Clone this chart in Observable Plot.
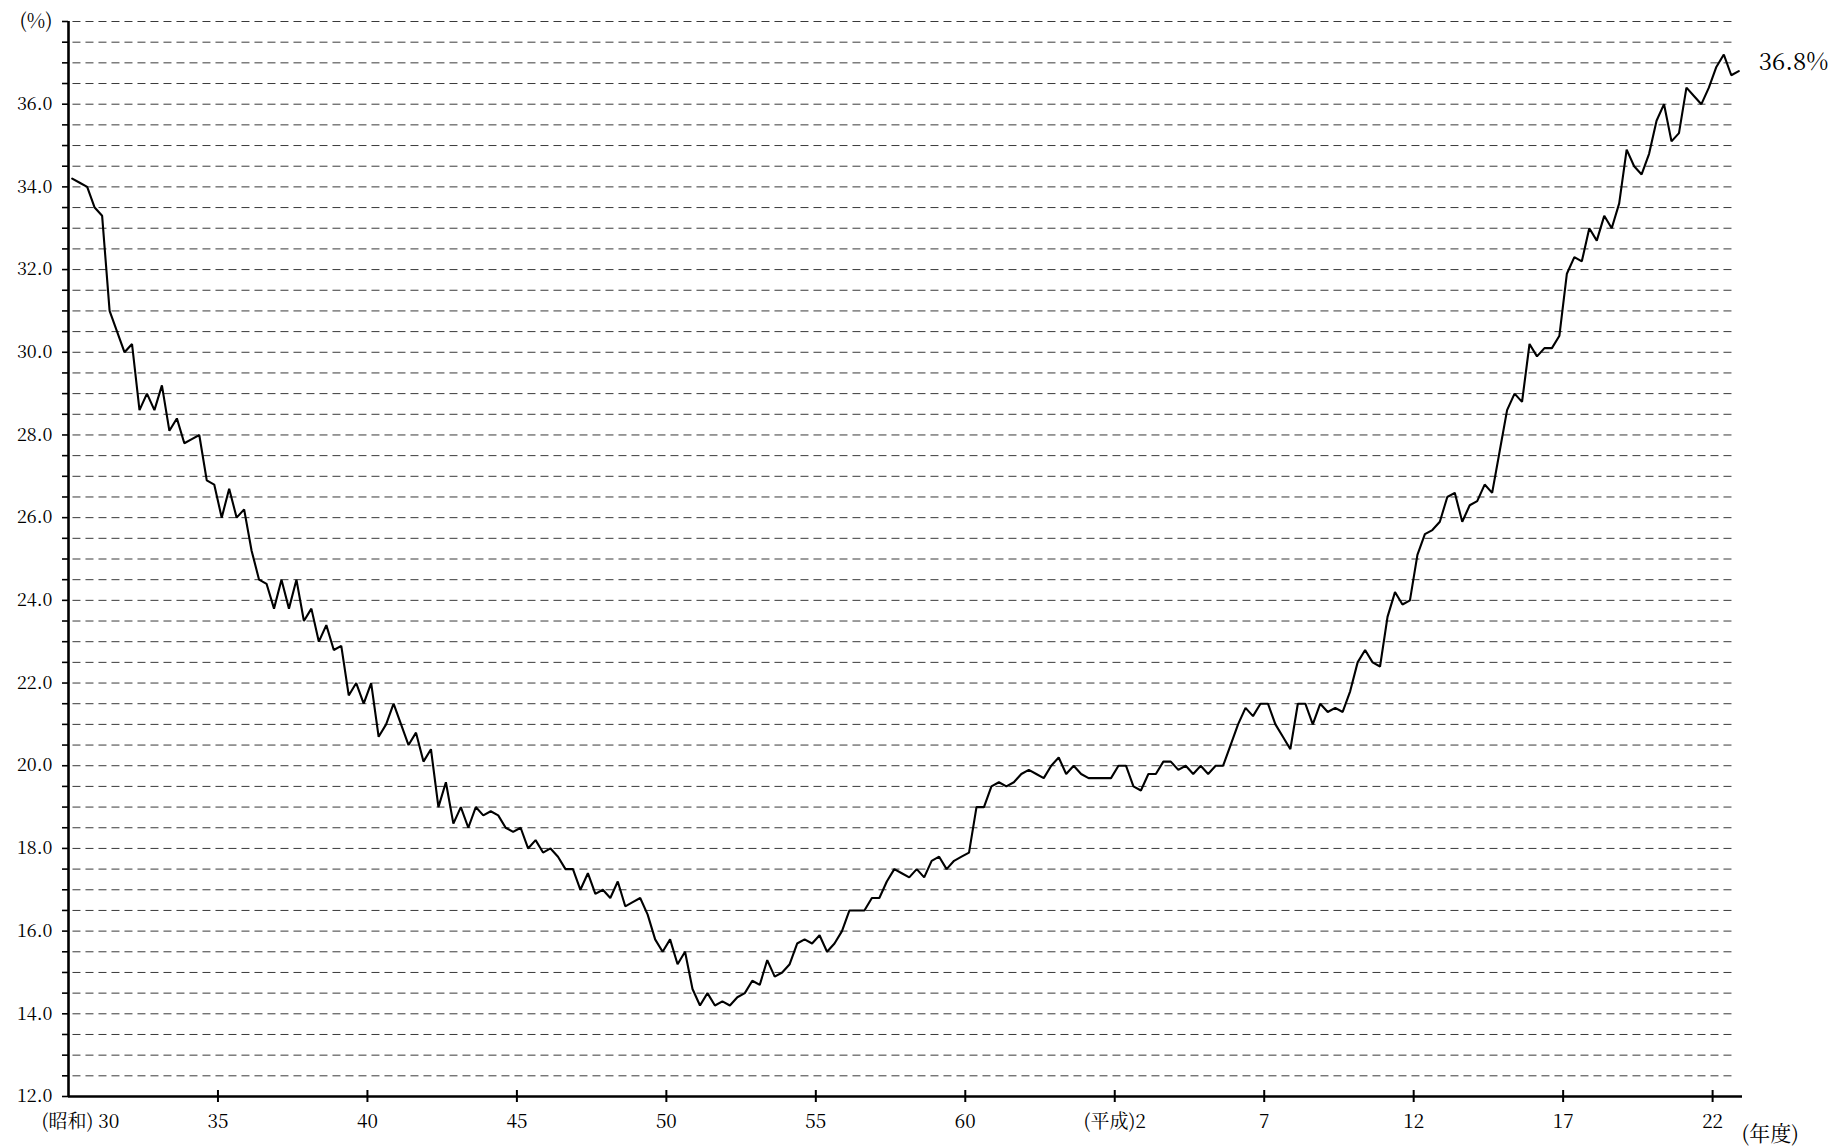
<!DOCTYPE html>
<html>
<head>
<meta charset="utf-8">
<script src="https://cdn.jsdelivr.net/npm/d3@7"></script>
<script src="https://cdn.jsdelivr.net/npm/@observablehq/plot@0.6"></script>
<style>
  html, body { margin: 0; padding: 0; background: #fff; }
  #chart svg { display: block; }
</style>
</head>
<body>
<div id="chart"></div>
<script>
// Quarterly values (%), Showa 30 – Showa 63 (fiscal years), 4 per year
const showaRates = [
  34.2, 34.1, 34.0, 33.5,
  33.3, 31.0, 30.5, 30.0,
  30.2, 28.6, 29.0, 28.6,
  29.2, 28.1, 28.4, 27.8,
  27.9, 28.0, 26.9, 26.8,
  26.0, 26.7, 26.0, 26.2,
  25.2, 24.5, 24.4, 23.8,
  24.5, 23.8, 24.5, 23.5,
  23.8, 23.0, 23.4, 22.8,
  22.9, 21.7, 22.0, 21.5,
  22.0, 20.7, 21.0, 21.5,
  21.0, 20.5, 20.8, 20.1,
  20.4, 19.0, 19.6, 18.6,
  19.0, 18.5, 19.0, 18.8,
  18.9, 18.8, 18.5, 18.4,
  18.5, 18.0, 18.2, 17.9,
  18.0, 17.8, 17.5, 17.5,
  17.0, 17.4, 16.9, 17.0,
  16.8, 17.2, 16.6, 16.7,
  16.8, 16.4, 15.8, 15.5,
  15.8, 15.2, 15.5, 14.6,
  14.2, 14.5, 14.2, 14.3,
  14.2, 14.4, 14.5, 14.8,
  14.7, 15.3, 14.9, 15.0,
  15.2, 15.7, 15.8, 15.7,
  15.9, 15.5, 15.7, 16.0,
  16.5, 16.5, 16.5, 16.8,
  16.8, 17.2, 17.5, 17.4,
  17.3, 17.5, 17.3, 17.7,
  17.8, 17.5, 17.7, 17.8,
  17.9, 19.0, 19.0, 19.5,
  19.6, 19.5, 19.6, 19.8,
  19.9, 19.8, 19.7, 20.0,
  20.2, 19.8, 20.0, 19.8
];
// Quarterly values (%), Heisei 1 – Heisei 22
const heiseiRates = [
  19.7, 19.7, 19.7, 19.7,
  20.0, 20.0, 19.5, 19.4,
  19.8, 19.8, 20.1, 20.1,
  19.9, 20.0, 19.8, 20.0,
  19.8, 20.0, 20.0, 20.5,
  21.0, 21.4, 21.2, 21.5,
  21.5, 21.0, 20.7, 20.4,
  21.5, 21.5, 21.0, 21.5,
  21.3, 21.4, 21.3, 21.8,
  22.5, 22.8, 22.5, 22.4,
  23.6, 24.2, 23.9, 24.0,
  25.1, 25.6, 25.7, 25.9,
  26.5, 26.6, 25.9, 26.3,
  26.4, 26.8, 26.6, 27.6,
  28.6, 29.0, 28.8, 30.2,
  29.9, 30.1, 30.1, 30.4,
  31.9, 32.3, 32.2, 33.0,
  32.7, 33.3, 33.0, 33.6,
  34.9, 34.5, 34.3, 34.8,
  35.6, 36.0, 35.1, 35.3,
  36.4, 36.2, 36.0, 36.4,
  36.9, 37.2, 36.7, 36.8
];
const showaStart = 30;         // 昭和30年度
const heiseiStartAsShowa = 64; // 平成元年度 = 昭和64年度

const xTickYears  = [30, 35, 40, 45, 50, 55, 60, 65, 70, 75, 80, 85];
const xTickLabels = ["(昭和) 30", "35", "40", "45", "50", "55", "60", "(平成)2", "7", "12", "17", "22"];
const yLabelValues = [12, 14, 16, 18, 20, 22, 24, 26, 28, 30, 32, 34, 36];
const yUnitLabel = "(%)";
const xUnitLabel = "(年度)";

const data = [
  ...showaRates.map((v, i) => ({ x: showaStart + Math.floor(i / 4) + ((i % 4) + 0.5) / 4, v })),
  ...heiseiRates.map((v, i) => ({ x: heiseiStartAsShowa + Math.floor(i / 4) + ((i % 4) + 0.5) / 4, v }))
];
const last = data[data.length - 1];

const gridValues = d3.range(12.5, 38.01, 0.5);
const yTickValues = d3.range(12, 38.01, 0.5);

const font = "'Noto Serif CJK JP','Liberation Serif','Noto Sans CJK JP',serif";

const chart = Plot.plot({
  width: 1836,
  height: 1147,
  marginLeft: 68,
  marginRight: 94,
  marginTop: 21,
  marginBottom: 51,
  x: { domain: [30, 86], axis: null },
  y: { domain: [12, 38] },
  style: { fontFamily: font, background: "#fff", color: "#000" },
  marks: [
    Plot.ruleY(gridValues, { x1: 30.15, x2: 85.8, stroke: "#3a3a3a", strokeWidth: 1, strokeDasharray: "8,5" }),
    Plot.axisY({
      ticks: yTickValues,
      tickSize: 6,
      tickPadding: 10,
      strokeWidth: 1.6,
      fontSize: 18,
      label: null,
      tickFormat: d => yLabelValues.includes(d) ? d.toFixed(1) : ""
    }),
    Plot.text([38], { x: 30, y: d => d, text: () => yUnitLabel, textAnchor: "end", dx: -16, fontSize: 20 }),
    Plot.ruleX([30], { y1: 12, y2: 38, stroke: "#000", strokeWidth: 2.6 }),
    Plot.ruleY([12], { x1: 30, x2: 86, stroke: "#000", strokeWidth: 2.4 }),
    Plot.ruleX(xTickYears.slice(1), { y1: 12, y2: 12, insetTop: -6, insetBottom: -6, stroke: "#000", strokeWidth: 2 }),
    Plot.line(data, { x: "x", y: "v", stroke: "#000", strokeWidth: 2.1, strokeLinejoin: "miter" }),
    Plot.text(xTickYears.slice(1), { x: d => d, y: 12, text: (d, i) => xTickLabels[i + 1], dy: 25, fontSize: 19 }),
    Plot.text([xTickYears[0]], { x: d => d, y: 12, text: () => xTickLabels[0], dx: 12, dy: 25, fontSize: 19 }),
    Plot.text([86], { x: d => d, y: 12, text: () => xUnitLabel, textAnchor: "start", dx: -1, dy: 38, fontSize: 21 }),
    Plot.text([last], { x: "x", y: "v", text: d => d.v.toFixed(1) + "%", textAnchor: "start", dx: 20, dy: -9, fontSize: 24 })
  ]
});
document.getElementById("chart").appendChild(chart);
</script>
</body>
</html>
